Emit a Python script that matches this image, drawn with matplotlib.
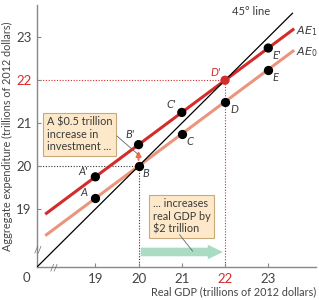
import numpy as np
import matplotlib.pyplot as plt
from matplotlib.patches import FancyArrow

plt.rcParams['font.family'] = ['Lato', 'DejaVu Sans']

# Data (trillions of 2012 dollars)
origin = 17.65          # where the broken axes meet
gdp_pts = [19, 20, 21, 22, 23]
ae0_pts = [19.25, 20.0, 20.75, 21.5, 22.25]
ae1_pts = [19.75, 20.5, 21.25, 22.0, 22.75]
line_x = [17.84, 23.6]
ticks = [19, 20, 21, 22, 23]

ae0_slope = 0.75
ae0_at20 = 20.0
shift = 0.5

fig = plt.figure(figsize=(3.19, 3.0), dpi=100)
ax = fig.add_axes([0.116, 0.11, 0.874, 0.873])
ax.set_xlim(origin, 24.1)
ax.set_ylim(origin, 23.75)

red = "#d42b2b"
salmon = "#eb957d"
txt = "#3a3a3a"

# AE lines
lx = np.array(line_x)
ae0 = ae0_at20 + ae0_slope * (lx - 20)
ax.plot(lx, ae0, color=salmon, lw=2.2, solid_capstyle="butt", zorder=2)
ax.plot(lx, ae0 + shift, color=red, lw=2.2, solid_capstyle="butt", zorder=2)
# 45 degree line
ax.plot([origin, 23.56], [origin, 23.56], color="black", lw=0.9, zorder=3)

# dotted guides
ax.plot([origin, 20, 20], [20, 20, origin], color="#333333", lw=0.8, ls=(0, (1, 1.5)), zorder=1)
ax.plot([origin, 22, 22], [22, 22, origin], color=red, lw=0.8, ls=(0, (1, 1.5)), zorder=1)

# points
ax.scatter(gdp_pts, ae0_pts, s=32, color="black", zorder=5)
ax.scatter(gdp_pts, ae1_pts, s=32, color=["black", "black", "black", red, "black"], zorder=5)

lab_kw = dict(fontsize=8, style="italic", color=txt, zorder=6)
ax.text(18.82, 19.25, "A", ha="right", va="bottom", **lab_kw)
ax.text(18.82, 19.75, "A'", ha="right", va="bottom", **lab_kw)
ax.text(20.1, 19.95, "B", ha="left", va="top", **lab_kw)
ax.text(19.9, 20.6, "B'", ha="right", va="bottom", **lab_kw)
ax.text(21.1, 20.7, "C", ha="left", va="top", **lab_kw)
ax.text(20.86, 21.3, "C'", ha="right", va="bottom", **lab_kw)
ax.text(22.12, 21.45, "D", ha="left", va="top", **lab_kw)
ax.text(21.9, 22.05, "D'", ha="right", va="bottom", **dict(lab_kw, color=red))
ax.text(23.1, 22.2, "E", ha="left", va="top", **lab_kw)
ax.text(23.1, 22.7, "E'", ha="left", va="top", **lab_kw)

ax.text(22.6, 23.6, "45° line", fontsize=8, color=txt, ha="center", va="center")
ax.text(23.65, 23.15, "$AE_1$", fontsize=8, color=txt, ha="left", va="center")
ax.text(23.65, 22.65, "$AE_0$", fontsize=8, color=txt, ha="left", va="center")

# small upward arrow B -> B'
ax.annotate("", xy=(20, 20.42), xytext=(20, 20.08),
            arrowprops=dict(arrowstyle="-|>", color="#e8704a", lw=1.5, mutation_scale=7), zorder=4)

# green arrow along x axis
ax.add_patch(FancyArrow(20.05, 18.0, 1.55, 0, width=0.2, head_width=0.34,
                        head_length=0.35, color="#a9dcc2", lw=0, zorder=2))

# annotation boxes
box = dict(boxstyle="square,pad=0.35", fc="#fde9c9", ec="#c9a97c", lw=0.8)
ax.text(17.87, 21.15, "A $0.5 trillion\nincrease in\ninvestment ...", fontsize=7.8,
        color=txt, va="top", ha="left", bbox=box, linespacing=1.15, zorder=7)
ax.plot([19.5, 19.98], [20.7, 20.28], color="#666666", lw=0.6, zorder=7)
ax.text(20.33, 19.25, "... increases\nreal GDP by\n$2 trillion", fontsize=7.8,
        color=txt, va="top", ha="left", bbox=box, linespacing=1.15, zorder=7)
ax.plot([20.95, 21.25], [18.4, 18.02], color="#666666", lw=0.6, zorder=7)

# axes styling
for s in ["top", "right"]:
    ax.spines[s].set_visible(False)
for s in ["left", "bottom"]:
    ax.spines[s].set_color("#888888")
    ax.spines[s].set_linewidth(1.0)
ax.set_xticks(ticks)
ax.set_yticks(ticks)
ax.set_xticklabels([str(t) for t in ticks])
ax.set_yticklabels([str(t) for t in ticks])
ax.tick_params(direction="in", length=3, color="#888888", labelsize=9.5, labelcolor="#444444", pad=4)
ax.get_xticklabels()[3].set_color(red)
ax.get_yticklabels()[3].set_color(red)
ax.text(origin - 0.15, origin - 0.12, "0", fontsize=9.5, color="#444444", ha="right", va="top")

# axis break marks
ax.text(18.05, origin - 0.02, "//", fontsize=7, color="#666666", ha="center", va="center", clip_on=False)
ax.text(origin + 0.02, 18.05, "//", fontsize=7, color="#666666", ha="center", va="center", clip_on=False)

ax.set_xlabel("Real GDP (trillions of 2012 dollars)", fontsize=7.8, color="#444444", labelpad=1, loc="right")
ax.set_ylabel("Aggregate expenditure (trillions of 2012 dollars)", fontsize=7.8, color="#444444", labelpad=2)

fig.savefig("out.png", dpi=100)
